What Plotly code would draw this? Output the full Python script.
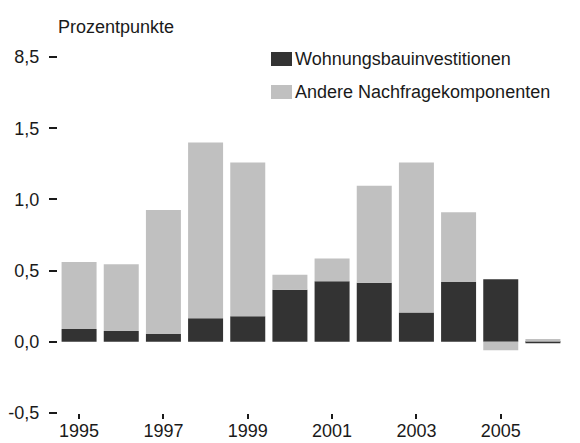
import plotly.graph_objects as go

years = [1995, 1996, 1997, 1998, 1999, 2000, 2001, 2002, 2003, 2004, 2005, 2006]
wohnungsbau = [0.09, 0.075, 0.055, 0.165, 0.18, 0.365, 0.425, 0.415, 0.205, 0.42, 0.44, -0.01]
andere = [0.47, 0.47, 0.87, 1.235, 1.08, 0.105, 0.16, 0.68, 1.055, 0.49, -0.06, 0.02]
series_names = ["Wohnungsbauinvestitionen", "Andere Nachfragekomponenten"]
y_tickvals = [-0.5, 0.0, 0.5, 1.0, 1.5, 2.0]
y_ticktext = ["-0,5", "0,0", "0,5", "1,0", "1,5", "8,5"]
x_tickvals = [1995, 1997, 1999, 2001, 2003, 2005]
y_title = "Prozentpunkte"

DARK = "#333333"
LIGHT = "#c0c0c0"
FONT = "Liberation Sans, Arial, sans-serif"
TXT = "#1a1a1a"

OFF = 8  # page body margin
W, H = 580 - OFF, 443 - OFF
# plot area in page pixels: x 58..564, y 57..413
L = 58 - OFF
T = 57 - OFF
R = W - (564 - OFF)
B = H - (413 - OFF)
pw, ph = W - L - R, H - T - B

def px(x):
    return (x - OFF - L) / pw

def py(y):
    return (H - B - (y - OFF)) / ph

fig = go.Figure()
fig.add_trace(go.Bar(x=years, y=wohnungsbau, name=series_names[0],
                     marker=dict(color=DARK, line=dict(width=0)), width=0.83))
fig.add_trace(go.Bar(x=years, y=andere, name=series_names[1],
                     marker=dict(color=LIGHT, line=dict(width=0)), width=0.83))

fig.update_layout(
    barmode="relative",
    width=W, height=H,
    margin=dict(l=L, r=R, t=T, b=B, pad=0, autoexpand=False),
    paper_bgcolor="white", plot_bgcolor="white",
    showlegend=False,
    font=dict(family=FONT, size=18, color=TXT),
    xaxis=dict(range=[1994.5, 2006.5], tickvals=x_tickvals,
               ticktext=[str(v) for v in x_tickvals],
               ticks="outside", ticklen=5, tickwidth=2, tickcolor=TXT,
               ticklabelstandoff=-4,
               showline=False, showgrid=False, zeroline=False, automargin=False,
               tickfont=dict(size=18)),
    yaxis=dict(range=[-0.5, 2.0], tickvals=y_tickvals, ticktext=y_ticktext,
               ticks="outside", ticklen=8, tickwidth=2, tickcolor=TXT,
               ticklabelstandoff=6, automargin=False,
               showline=False, showgrid=False, zeroline=False,
               tickfont=dict(size=18)),
)

# title annotation
fig.add_annotation(text=y_title, xref="paper", yref="paper",
                   x=px(56), y=py(27), xanchor="left", yanchor="middle",
                   showarrow=False, font=dict(size=18, color=TXT))

# manual legend
legend_rows = [(series_names[0], DARK, 52, 66), (series_names[1], LIGHT, 85, 99)]
for name, col, y0, y1 in legend_rows:
    fig.add_shape(type="rect", xref="paper", yref="paper",
                  x0=px(271), x1=px(292), y0=py(y1), y1=py(y0),
                  fillcolor=col, line=dict(width=0))
    fig.add_annotation(text=name, xref="paper", yref="paper",
                       x=px(293), y=py((y0 + y1) / 2), xanchor="left", yanchor="middle",
                       showarrow=False, font=dict(size=18, color=TXT))

fig.write_html("out.html")
